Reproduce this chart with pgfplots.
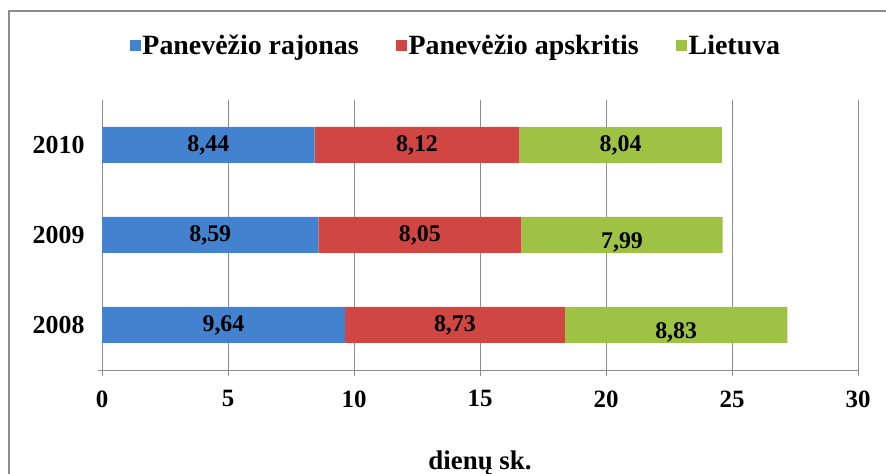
\documentclass[border=0pt]{standalone}
\usepackage{pgfplots}
\pgfplotsset{compat=1.18}
\usepackage{fontspec}
\setmainfont{Liberation Serif}

\definecolor{rajonas}{HTML}{4382CF}
\definecolor{apskritis}{HTML}{D04642}
\definecolor{lietuva}{HTML}{9DC244}
\definecolor{framegray}{HTML}{8C8C8C}

\begin{document}
\begin{tikzpicture}[x=1bp,y=1bp]
\path[use as bounding box] (0,0) rectangle (886,474);
\draw[framegray, line width=1.6bp] (8.8,0) -- (8.8,463) -- (886,463);
\begin{axis}[
    at={(102bp,104bp)}, anchor=south west,
    scale only axis, width=756bp, height=270bp,
    xbar stacked, bar width=36bp,
    xmin=0, xmax=30, ymin=0.5, ymax=3.5,
    xtick={0,5,...,30},
    ytick={1,2,3}, yticklabels={2008,2009,2010},
    minor ytick={0.5,1.5,2.5,3.5},
    axis lines=left, axis line style={framegray, line width=0.9bp, -},
    x axis line style={shorten <=-4bp},
    xmajorgrids, major grid style={framegray, line width=0.9bp},
    tick align=outside,
    xtick style={framegray, line width=0.9bp},
    major tick length=6bp,
    ytick style={draw=none},
    minor tick length=6bp,
    minor tick style={framegray, line width=0.9bp},
    xticklabel style={font=\fontsize{25}{28}\selectfont\bfseries, yshift=-11bp},
    yticklabel style={font=\fontsize{26}{30}\selectfont\bfseries, xshift=-8bp},
    /pgf/number format/assume math mode=true,
    xlabel={dienų sk.},
    xlabel style={font=\fontsize{27}{31}\selectfont\bfseries,
        at={(axis description cs:0.5,-0.345)}, anchor=center},
    visualization depends on={rawx \as \rawx},
    visualization depends on={rawy \as \rawy},
    nodes near coords={\pgfmathprintnumber[fixed,fixed zerofill,precision=2,use comma]{\rawx}},
    nodes near coords style={text=black, font=\fontsize{24}{28}\selectfont\bfseries},
    legend style={at={(0.468,1.203)}, anchor=center, draw=none, fill=none,
        legend columns=3, font=\fontsize{28}{32}\selectfont\bfseries,
        /tikz/every even column/.append style={column sep=36bp},
        nodes={inner sep=1.5bp}, inner sep=0pt},
    legend image code/.code={\fill[#1] (0bp,-5.5bp) rectangle (11bp,5.5bp);},
    legend cell align=left,
]
\addplot+[draw=none, fill=rajonas]
    coordinates {(9.64,1) (8.59,2) (8.44,3)};
\addplot+[draw=none, fill=apskritis]
    coordinates {(8.73,1) (8.05,2) (8.12,3)};
\addplot+[draw=none, fill=lietuva,
    nodes near coords style={yshift={-7bp*(\rawy<2.5)}}]
    coordinates {(8.83,1) (7.99,2) (8.04,3)};
\legend{Panevėžio rajonas, Panevėžio apskritis, Lietuva}
\end{axis}
\end{tikzpicture}
\end{document}
